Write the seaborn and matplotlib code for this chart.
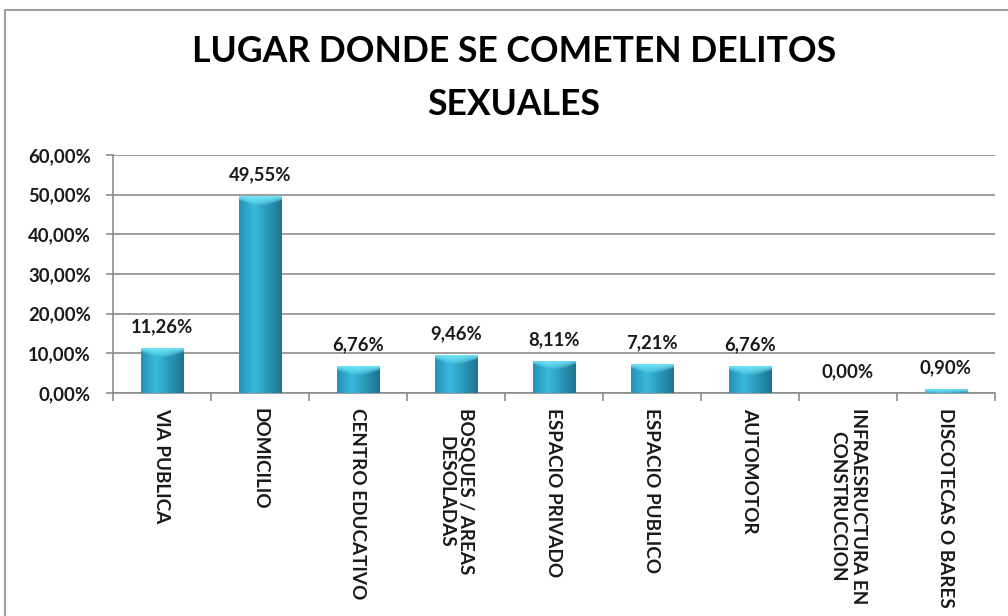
import matplotlib
matplotlib.use("Agg")
import matplotlib.pyplot as plt
import matplotlib.colors as mcolors
from matplotlib.patches import Rectangle
from matplotlib.ticker import FixedLocator, FuncFormatter
import seaborn as sns
import pandas as pd
import numpy as np

categorias = [
    "VIA PUBLICA",
    "DOMICILIO",
    "CENTRO EDUCATIVO",
    "BOSQUES / AREAS\nDESOLADAS",
    "ESPACIO PRIVADO",
    "ESPACIO PUBLICO",
    "AUTOMOTOR",
    "INFRAESRUCTURA EN\nCONSTRUCCION",
    "DISCOTECAS O BARES",
]
porcentajes = [11.26, 49.55, 6.76, 9.46, 8.11, 7.21, 6.76, 0.00, 0.90]
y_ticks = [0, 10, 20, 30, 40, 50, 60]
titulo = "LUGAR DONDE SE COMETEN DELITOS\nSEXUALES"

df = pd.DataFrame({"lugar": categorias, "pct": porcentajes})

sns.set_theme(style="white")
plt.rcParams["font.family"] = ["Lato", "DejaVu Sans"]

W, H = 1008, 616
fig = plt.figure(figsize=(W / 100, H / 100), dpi=100)
ax = fig.add_axes([113 / W, 1 - 393 / H, (995 - 113) / W, (393 - 155) / H])

sns.barplot(data=df, x="lugar", y="pct", color="#2fa9cc", width=0.43,
            saturation=1, ax=ax, zorder=3)

ax.set_xlim(-0.5, len(categorias) - 0.5)
ax.set_ylim(0, 60)
ax.yaxis.set_major_locator(FixedLocator(y_ticks))
ax.yaxis.set_major_formatter(FuncFormatter(lambda v, p: f"{v:.2f}%".replace(".", ",")))
ax.grid(axis="y", color="#8c8c8c", linewidth=1.2, zorder=0)
ax.set_axisbelow(True)
for s in ["top", "right"]:
    ax.spines[s].set_visible(False)
for s in ["left", "bottom"]:
    ax.spines[s].set_color("#8c8c8c")
    ax.spines[s].set_linewidth(1.2)

ax.set_xlabel("")
ax.set_ylabel("")
ax.tick_params(axis="y", which="major", length=5, color="#8c8c8c", width=1.2,
               labelsize=13.3, labelcolor="#1a1a1a", pad=11, left=True)
for lab in ax.get_yticklabels():
    lab.set_fontweight("bold")
ax.xaxis.set_minor_locator(FixedLocator(np.arange(-0.5, len(categorias), 1.0)))
ax.tick_params(axis="x", which="minor", length=6, color="#8c8c8c", width=1.2,
               bottom=True)
ax.tick_params(axis="x", which="major", length=0, pad=11, labelsize=13.6,
               labelcolor="#1a1a1a")
for lab in ax.get_xticklabels():
    lab.set_rotation(270)
    lab.set_va("top")
    lab.set_ha("center")
    lab.set_multialignment("center")
    lab.set_linespacing(1.25)
    lab.set_fontweight("bold")

# cylinder-like shading for each bar
edge_l = np.array(mcolors.to_rgb("#2592b4"))
mid = np.array(mcolors.to_rgb("#38badd"))
edge_r = np.array(mcolors.to_rgb("#1c7490"))
cap = np.array(mcolors.to_rgb("#72e4f7"))
nx, ny = 60, 200
u = np.linspace(0, 1, nx)
prof = np.where(u[:, None] < 0.35,
                edge_l + (mid - edge_l) * (u[:, None] / 0.35),
                mid + (edge_r - mid) * ((u[:, None] - 0.35) / 0.65))
cap_depth_data = 2.2
for p in list(ax.patches):
    x0, w, h = p.get_x(), p.get_width(), p.get_height()
    if h <= 0:
        p.set_visible(False)
        continue
    depth = np.linspace(0, h, ny)[:, None]
    cd = cap_depth_data * (0.45 + 0.55 * np.sin(np.pi * u))[None, :]
    t = np.clip(1 - depth / np.minimum(cd, h + 1e-9), 0, 1) ** 0.6
    img = prof[None, :, :] * (1 - t[..., None]) + cap[None, None, :] * t[..., None]
    im = ax.imshow(img, extent=[x0, x0 + w, 0, h], origin="upper",
                   aspect="auto", zorder=3.5, interpolation="bilinear")
    im.set_clip_path(p)
    p.set_facecolor("none")
    p.set_edgecolor("none")

for i, v in enumerate(porcentajes):
    ax.annotate(f"{v:.2f}%".replace(".", ","), (i, v), xytext=(0, 15.5),
                textcoords="offset points", ha="center", va="center",
                fontsize=13.3, fontweight="bold", color="#1a1a1a", zorder=5)

fig.text(514 / W, 1 - 78 / H, titulo, ha="center", va="center",
         fontsize=25.6, fontweight="bold", color="black", linespacing=1.72)

fig.patches.append(Rectangle((5 / W, -0.2), 1.5, 1.2 - 10 / H, fill=False,
                             edgecolor="#a0a0a0", linewidth=1.5,
                             transform=fig.transFigure, figure=fig))

fig.savefig("out.png", dpi=100)
